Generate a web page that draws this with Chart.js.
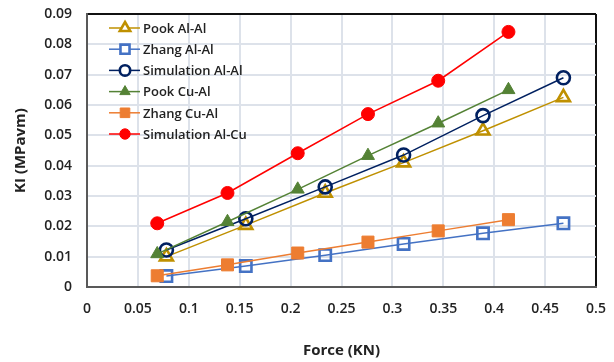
<!DOCTYPE html>
<html>
<head>
<meta charset="utf-8">
<script src="https://cdn.jsdelivr.net/npm/chart.js@4.4.1/dist/chart.umd.min.js"></script>
<style>
  html,body{margin:0;padding:0;background:#fff;}
  #wrap{width:614px;height:362px;position:relative;}
</style>
</head>
<body>
<div id="wrap"><canvas id="kiChart" width="614" height="362"></canvas></div>
<script>
// -------- DATA ----------
const forceAlAl = [0.078, 0.156, 0.234, 0.311, 0.389, 0.468];
const forceCuAl = [0.069, 0.138, 0.207, 0.276, 0.345, 0.414];

const pookAlAl  = [0.0100, 0.0204, 0.0310, 0.0410, 0.0515, 0.0625];
const zhangAlAl = [0.0036, 0.0069, 0.0105, 0.0142, 0.0177, 0.0210];
const simAlAl   = [0.0122, 0.0225, 0.0330, 0.0435, 0.0565, 0.0690];
const pookCuAl  = [0.0109, 0.0215, 0.0322, 0.0433, 0.0540, 0.0650];
const zhangCuAl = [0.0037, 0.0073, 0.0112, 0.0148, 0.0185, 0.0222];
const simAlCu   = [0.0210, 0.0310, 0.0441, 0.0570, 0.0680, 0.0841];

const seriesNames = ['Pook Al-Al','Zhang Al-Al','Simulation Al-Al','Pook Cu-Al','Zhang Cu-Al','Simulation Al-Cu'];
const xTickLabels = ['0','0.05','0.1','0.15','0.2','0.25','0.3','0.35','0.4','0.45','0.5'];
const yTickLabels = ['0','0.01','0.02','0.03','0.04','0.05','0.06','0.07','0.08','0.09'];

const FONT = '"Open Sans", Arial, sans-serif';
const GRID = '#dde2ea';
const pts = (xs, ys) => xs.map((x,i)=>({x, y:ys[i]}));

function ds(label, xs, ys, color, style, fill, radius, bw){
  return {
    label,
    data: pts(xs, ys),
    borderColor: color,
    backgroundColor: color,
    borderWidth: 1.5,
    pointStyle: style,
    pointRadius: radius,
    pointHoverRadius: radius,
    pointBorderWidth: bw,
    pointBorderColor: color,
    pointBackgroundColor: fill,
    tension: 0,
    fill: false
  };
}

const datasets = [
  ds(seriesNames[5], forceCuAl, simAlCu,   '#ff0000', 'circle',   '#ff0000', 6.5, 1),
  ds(seriesNames[4], forceCuAl, zhangCuAl, '#ed7d31', 'rect',     '#ed7d31', 8.5, 1),
  ds(seriesNames[3], forceCuAl, pookCuAl,  '#548235', 'triangle', '#548235', 7.5, 1),
  ds(seriesNames[2], forceAlAl, simAlAl,   '#002060', 'circle',   'rgba(255,255,255,0)', 6.5, 2.6),
  ds(seriesNames[1], forceAlAl, zhangAlAl, '#4472c4', 'rect',     'rgba(255,255,255,0)', 8, 2.6),
  ds(seriesNames[0], forceAlAl, pookAlAl,  '#bf9000', 'triangle', 'rgba(255,255,255,0)', 7.5, 2.6)
];

// legend with line + marker, Excel style
const lineLegend = {
  id: 'lineLegend',
  afterDraw(chart){
    const {ctx} = chart;
    const order = seriesNames.map(n => chart.data.datasets.findIndex(d=>d.label===n));
    ctx.save();
    order.forEach((di, row) => {
      const d = chart.data.datasets[di];
      const y = 28 + row * 21.2;
      ctx.strokeStyle = d.borderColor;
      ctx.lineWidth = 1.5;
      ctx.beginPath(); ctx.moveTo(109, y); ctx.lineTo(140, y); ctx.stroke();
      ctx.lineWidth = d.pointBorderWidth;
      ctx.fillStyle = d.pointBackgroundColor === 'rgba(255,255,255,0)' ? '#fff' : d.pointBackgroundColor;
      Chart.helpers.drawPoint(ctx, {
        pointStyle: d.pointStyle, rotation: 0,
        radius: d.pointRadius * 0.8, borderWidth: d.pointBorderWidth
      }, 125, y);
      ctx.fillStyle = '#222';
      ctx.font = '600 13px ' + FONT;
      ctx.textBaseline = 'middle';
      ctx.textAlign = 'left';
      ctx.fillText(d.label, 143, y + 1);
    });
    ctx.restore();
  }
};

// last grid line closes the frame (top / right), black like the reference
const frameColor = last => c => c.index === last ? '#111' : GRID;

// -------- CHART ----------
new Chart(document.getElementById('kiChart').getContext('2d'), {
  type: 'line',
  data: { datasets },
  options: {
    responsive: false,
    animation: false,
    layout: { padding: { left: 0, top: 14, right: 18, bottom: 0 } },
    plugins: { legend: { display: false }, tooltip: { enabled: false } },
    scales: {
      x: {
        type: 'linear', min: 0, max: 0.5,
        afterFit: s => { s.height = 75; s.paddingLeft = 0; s.paddingRight = 0; },
        afterBuildTicks: s => { s.ticks = xTickLabels.map((t,i)=>({value: i*0.05})); },
        grid: { color: frameColor(xTickLabels.length - 1), lineWidth: 2, drawTicks: false },
        border: { display: true, color: '#595959', width: 2 },
        ticks: {
          padding: 14, color: '#222',
          font: { family: FONT, size: 14, weight: '600' },
          callback: (v, i) => xTickLabels[i]
        },
        title: {
          display: true, text: 'Force (KN)', color: '#222',
          font: { family: FONT, size: 15, weight: '700' },
          padding: { top: 0, bottom: 2 }
        }
      },
      y: {
        type: 'linear', min: 0, max: 0.09,
        afterFit: s => { s.width = 87; s.paddingTop = 0; s.paddingBottom = 0; },
        afterBuildTicks: s => { s.ticks = yTickLabels.map((t,i)=>({value: i*0.01})); },
        grid: { color: frameColor(yTickLabels.length - 1), lineWidth: 2, drawTicks: false },
        border: { display: true, color: '#595959', width: 2 },
        ticks: {
          padding: 15, color: '#222',
          font: { family: FONT, size: 14, weight: '600' },
          callback: (v, i) => yTickLabels[i]
        },
        title: {
          display: true, text: 'KI (MPavm)', color: '#222',
          font: { family: FONT, size: 15, weight: '700' },
          padding: { top: 12, bottom: 0 }
        }
      }
    }
  },
  plugins: [lineLegend]
});
</script>
</body>
</html>
